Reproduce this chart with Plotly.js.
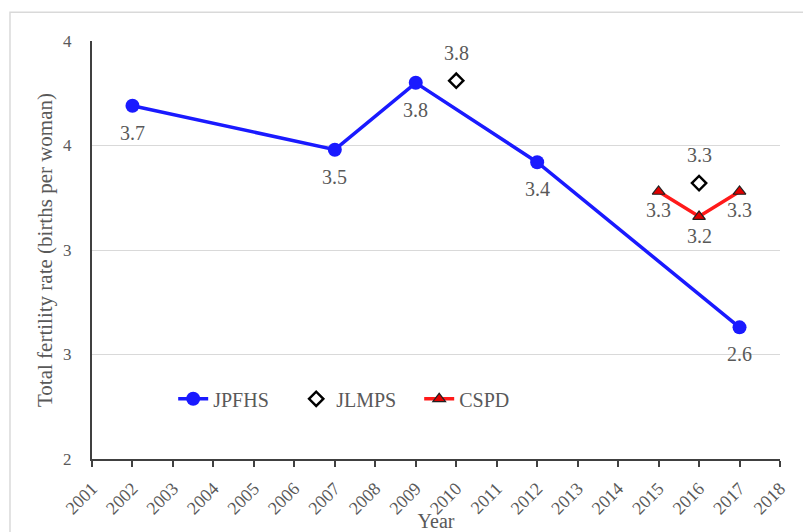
<!DOCTYPE html>
<html>
<head>
<meta charset="utf-8">
<script src="https://cdn.plot.ly/plotly-3.0.1.min.js"></script>
<style>html,body{margin:0;padding:0;background:#fff;}#chart{width:803px;height:532px;}</style>
</head>
<body>
<div id="chart"></div>
<script>
const jpfhsYears = [2002, 2007, 2009, 2012, 2017];
const jpfhsValues = [3.69, 3.48, 3.80, 3.42, 2.63];
const jpfhsLabels = ["3.7", "3.5", "3.8", "3.4", "2.6"];

const jlmpsYears = [2010, 2016];
const jlmpsValues = [3.81, 3.32];
const jlmpsLabels = ["3.8", "3.3"];

const cspdYears = [2015, 2016, 2017];
const cspdValues = [3.28, 3.16, 3.28];
const cspdLabels = ["3.3", "3.2", "3.3"];

const yTickVals = [2, 2.5, 3, 3.5, 4];
const yTickText = ["2", "3", "3", "4", "4"];
const xTickVals = [2001,2002,2003,2004,2005,2006,2007,2008,2009,2010,2011,2012,2013,2014,2015,2016,2017,2018];

const FAM = "Liberation Serif, Times New Roman, serif";
const GREY = "#595959";

const traces = [
  {x: jpfhsYears, y: jpfhsValues, name: "JPFHS", mode: "lines+markers",
   line: {color: "#1a1aff", width: 3.5}, marker: {symbol: "circle", size: 14, color: "#1a1aff"}},
  {x: jlmpsYears, y: jlmpsValues, name: "JLMPS", mode: "markers",
   marker: {symbol: "diamond-open", size: 11, color: "#000", line: {width: 2.4, color: "#000"}}},
  {x: cspdYears, y: cspdValues, name: "CSPD", mode: "lines+markers",
   line: {color: "#ff1a1a", width: 3.5},
   marker: {symbol: "triangle-up", size: 11, color: "#e00000", line: {width: 1.2, color: "#222"}}}
];

function labels(xs, ys, ts, shift) {
  return xs.map((x, i) => ({x: x, y: ys[i], text: ts[i], xref: "x", yref: "y", showarrow: false,
    yshift: shift, font: {family: FAM, size: 20, color: GREY}}));
}
const annotations = [].concat(
  labels(jpfhsYears, jpfhsValues, jpfhsLabels, -27),
  labels(jlmpsYears, jlmpsValues, jlmpsLabels, 28),
  labels(cspdYears, cspdValues, cspdLabels, -19)
);

const layout = {
  width: 803, height: 532,
  margin: {l: 92, r: 23, t: 41, b: 73},
  paper_bgcolor: "#fff", plot_bgcolor: "#fff",
  font: {family: FAM, color: GREY, size: 18},
  showlegend: true,
  legend: {orientation: "h", x: 0.118, y: 0.144, yanchor: "middle", xanchor: "left",
           font: {family: FAM, size: 20, color: GREY}, bgcolor: "rgba(0,0,0,0)",
           entrywidth: 78, entrywidthmode: "pixels", traceorder: "normal"},
  annotations: annotations,
  xaxis: {range: [2001, 2018], tickvals: xTickVals, ticktext: xTickVals.map(String), tickangle: -45,
          showgrid: false, zeroline: false, showline: true, linecolor: "#404040", linewidth: 2,
          ticks: "outside", ticklen: 6, tickwidth: 2, tickcolor: "#404040", ticklabelstandoff: 4,
          tickfont: {family: FAM, size: 18, color: GREY},
          title: {text: "Year", font: {family: FAM, size: 20, color: GREY}, standoff: 0}},
  yaxis: {range: [2, 4], tickvals: yTickVals, ticktext: yTickText,
          showgrid: true, gridcolor: "#d9d9d9", gridwidth: 1, zeroline: false,
          showline: true, linecolor: "#404040", linewidth: 2, ticks: "", ticklabelstandoff: 15,
          tickfont: {family: FAM, size: 17, color: GREY},
          title: {text: "Total fertility rate (births per woman)", font: {family: FAM, size: 21, color: GREY}, standoff: 5}},
  shapes: [
    {type: "rect", xref: "paper", yref: "paper", x0: -0.1192, x1: 1.2, y0: -0.5, y1: 1.069,
     line: {color: "#d9d9d9", width: 1.5}, fillcolor: "rgba(0,0,0,0)", layer: "below"}
  ]
};

Plotly.newPlot("chart", traces, layout, {displayModeBar: false, staticPlot: true});
</script>
</body>
</html>
